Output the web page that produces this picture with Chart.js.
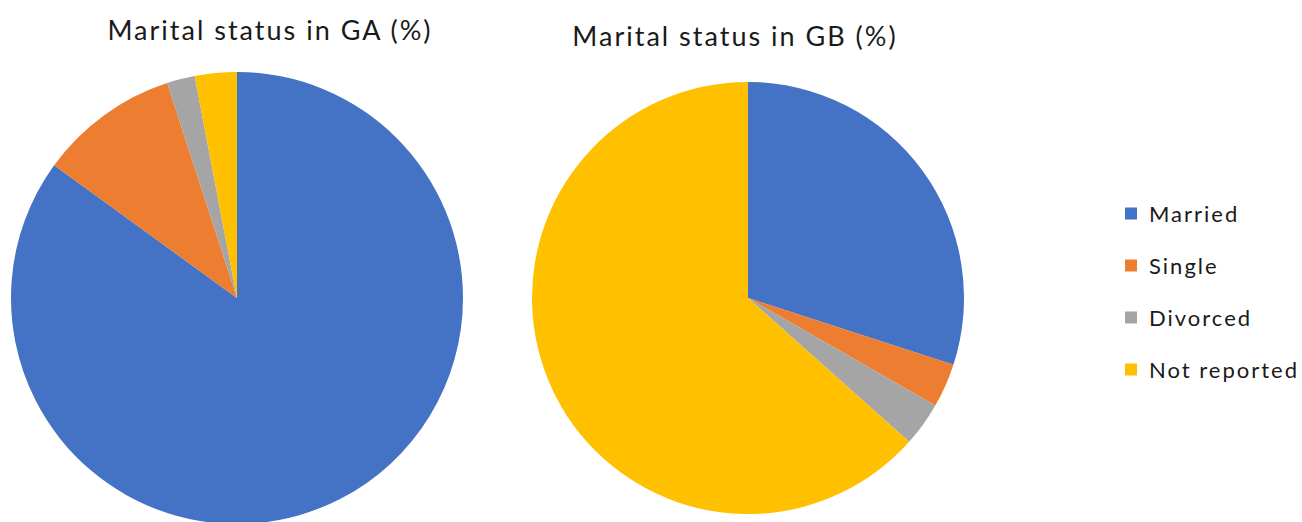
<!DOCTYPE html>
<html>
<head>
<meta charset="utf-8">
<script src="https://cdn.jsdelivr.net/npm/chart.js@4/dist/chart.umd.min.js"></script>
<style>
  html, body { margin: 0; padding: 0; background: #fff; width: 1302px; height: 522px; overflow: hidden; }
  body { position: relative; font-family: Lato, "Open Sans", sans-serif; color: #1a1a1a; }
  .pie { position: absolute; }
  .title { position: absolute; font-size: 27px; letter-spacing: 2px; white-space: nowrap; transform: translate(-50%, -50%); }
  .item { position: absolute; left: 1125px; display: flex; align-items: center; font-size: 22px; letter-spacing: 2px; white-space: nowrap; transform: translateY(-50%); }
  .swatch { width: 12px; height: 12px; margin-right: 12px; }
</style>
</head>
<body>
<div class="title" style="left:270px; top:29px">Marital status in GA (%)</div>
<div class="title" style="left:735px; top:35px">Marital status in GB (%)</div>
<div class="pie" style="left:11px; top:72px; width:452px; height:452px"><canvas id="ga"></canvas></div>
<div class="pie" style="left:532px; top:82px; width:432px; height:432px"><canvas id="gb"></canvas></div>
<div id="legend"></div>
<script>
// values, percent
const categories = ["Married", "Single", "Divorced", "Not reported"];
const gaValues = [85, 10, 2, 3];
const gbValues = [30, 3.3, 3.3, 63.4];
const colors = ["#4472C4", "#ED7D31", "#A5A5A5", "#FFC000"];

function drawPie(id, values) {
  new Chart(document.getElementById(id), {
    type: "pie",
    data: {
      labels: categories,
      datasets: [{ data: values, backgroundColor: colors, borderWidth: 0 }],
    },
    options: {
      responsive: true,
      maintainAspectRatio: false,
      animation: false,
      layout: { padding: 0 },
      plugins: { legend: { display: false }, tooltip: { enabled: false } },
    },
  });
}

drawPie("ga", gaValues);
drawPie("gb", gbValues);

// shared legend on the right, one row every 52px
const legend = document.getElementById("legend");
categories.forEach((name, i) => {
  const row = document.createElement("div");
  row.className = "item";
  row.style.top = (213 + i * 52) + "px";
  const sw = document.createElement("span");
  sw.className = "swatch";
  sw.style.background = colors[i];
  row.appendChild(sw);
  row.appendChild(document.createTextNode(name));
  legend.appendChild(row);
});
</script>
</body>
</html>
